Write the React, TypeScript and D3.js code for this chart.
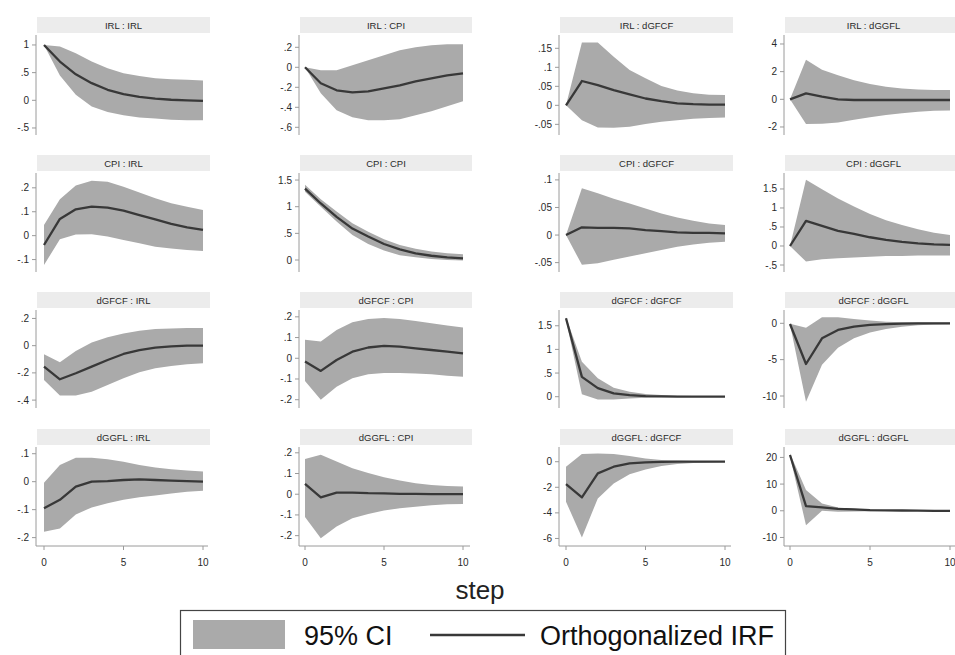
import React from 'react';
import * as d3 from 'd3';

const steps = [0, 1, 2, 3, 4, 5, 6, 7, 8, 9, 10];
const xTicks = [0, 5, 10];
const impulses = ['IRL', 'CPI', 'dGFCF', 'dGGFL'];
const responses = ['IRL', 'CPI', 'dGFCF', 'dGGFL'];

// ---- IRF data (row = impulse, column = response) ----
const irf_IRL_IRL = [1, 0.7, 0.47, 0.31, 0.19, 0.11, 0.06, 0.03, 0.01, 0.0, -0.01];
const hi_IRL_IRL = [1, 0.97, 0.85, 0.7, 0.58, 0.49, 0.44, 0.4, 0.38, 0.37, 0.36];
const lo_IRL_IRL = [1, 0.45, 0.1, -0.11, -0.21, -0.27, -0.31, -0.33, -0.35, -0.36, -0.36];

const irf_IRL_CPI = [0, -0.16, -0.23, -0.25, -0.24, -0.21, -0.18, -0.14, -0.11, -0.08, -0.06];
const hi_IRL_CPI = [0, -0.03, -0.03, 0.02, 0.07, 0.12, 0.17, 0.2, 0.22, 0.23, 0.23];
const lo_IRL_CPI = [0, -0.26, -0.43, -0.5, -0.53, -0.53, -0.52, -0.48, -0.44, -0.39, -0.34];

const irf_IRL_dGFCF = [0, 0.064, 0.053, 0.04, 0.029, 0.018, 0.011, 0.005, 0.003, 0.002, 0.002];
const hi_IRL_dGFCF = [0, 0.165, 0.165, 0.128, 0.093, 0.071, 0.051, 0.039, 0.032, 0.028, 0.027];
const lo_IRL_dGFCF = [0, -0.039, -0.058, -0.059, -0.056, -0.049, -0.043, -0.039, -0.035, -0.033, -0.032];

const irf_IRL_dGGFL = [0, 0.43, 0.19, 0.0, -0.05, -0.05, -0.05, -0.05, -0.05, -0.05, -0.05];
const hi_IRL_dGGFL = [0, 2.86, 2.14, 1.74, 1.38, 1.1, 0.9, 0.79, 0.71, 0.67, 0.67];
const lo_IRL_dGGFL = [0, -1.79, -1.76, -1.67, -1.48, -1.29, -1.14, -1.0, -0.9, -0.83, -0.81];

const irf_CPI_IRL = [-0.039, 0.07, 0.11, 0.121, 0.117, 0.105, 0.086, 0.068, 0.049, 0.035, 0.024];
const hi_CPI_IRL = [0.045, 0.152, 0.21, 0.23, 0.225, 0.205, 0.18, 0.156, 0.135, 0.121, 0.107];
const lo_CPI_IRL = [-0.123, -0.015, 0.005, 0.006, -0.004, -0.018, -0.032, -0.046, -0.054, -0.06, -0.064];

const irf_CPI_CPI = [1.34, 1.06, 0.81, 0.59, 0.44, 0.3, 0.2, 0.125, 0.08, 0.05, 0.03];
const hi_CPI_CPI = [1.41, 1.14, 0.91, 0.69, 0.53, 0.39, 0.28, 0.21, 0.16, 0.125, 0.11];
const lo_CPI_CPI = [1.28, 1.0, 0.72, 0.47, 0.3, 0.18, 0.09, 0.05, 0.02, 0.0, -0.01];

const irf_CPI_dGFCF = [0, 0.014, 0.013, 0.013, 0.012, 0.009, 0.007, 0.005, 0.004, 0.004, 0.003];
const hi_CPI_dGFCF = [0, 0.085, 0.076, 0.066, 0.057, 0.048, 0.039, 0.032, 0.026, 0.021, 0.018];
const lo_CPI_dGFCF = [0, -0.054, -0.051, -0.045, -0.039, -0.033, -0.027, -0.021, -0.017, -0.014, -0.012];

const irf_CPI_dGGFL = [0, 0.66, 0.53, 0.4, 0.32, 0.23, 0.16, 0.11, 0.07, 0.04, 0.03];
const hi_CPI_dGGFL = [0, 1.74, 1.49, 1.25, 1.04, 0.84, 0.68, 0.55, 0.44, 0.35, 0.29];
const lo_CPI_dGGFL = [0, -0.41, -0.35, -0.32, -0.3, -0.28, -0.26, -0.26, -0.25, -0.25, -0.25];

const irf_dGFCF_IRL = [-0.154, -0.247, -0.203, -0.154, -0.105, -0.061, -0.032, -0.015, -0.005, 0, 0];
const hi_dGFCF_IRL = [-0.064, -0.122, -0.039, 0.024, 0.061, 0.09, 0.11, 0.122, 0.127, 0.13, 0.13];
const lo_dGFCF_IRL = [-0.252, -0.367, -0.367, -0.338, -0.289, -0.24, -0.196, -0.166, -0.149, -0.137, -0.13];

const irf_dGFCF_CPI = [-0.016, -0.061, -0.008, 0.032, 0.052, 0.06, 0.056, 0.048, 0.04, 0.032, 0.024];
const hi_dGFCF_CPI = [0.089, 0.081, 0.137, 0.174, 0.19, 0.194, 0.19, 0.18, 0.169, 0.158, 0.148];
const lo_dGFCF_CPI = [-0.11, -0.2, -0.137, -0.097, -0.077, -0.071, -0.071, -0.074, -0.077, -0.084, -0.089];

const irf_dGFCF_dGFCF = [1.66, 0.42, 0.18, 0.07, 0.035, 0.014, 0.005, 0.002, 0.001, 0, 0];
const hi_dGFCF_dGFCF = [1.68, 0.74, 0.39, 0.19, 0.106, 0.056, 0.035, 0.02, 0.015, 0.012, 0.01];
const lo_dGFCF_dGFCF = [1.62, 0.05, -0.06, -0.06, -0.04, -0.02, -0.01, -0.005, -0.003, -0.002, -0.002];

const irf_dGFCF_dGGFL = [-0.1, -5.6, -2.06, -0.92, -0.46, -0.23, -0.1, -0.05, 0, 0, 0];
const hi_dGFCF_dGGFL = [-0.05, -0.6, 0.83, 0.83, 0.6, 0.37, 0.23, 0.14, 0.12, 0.1, 0.1];
const lo_dGFCF_dGGFL = [-0.15, -10.8, -5.7, -3.35, -2.06, -1.28, -0.78, -0.46, -0.28, -0.18, -0.14];

const irf_dGGFL_IRL = [-0.095, -0.065, -0.018, 0, 0.002, 0.006, 0.008, 0.006, 0.004, 0.002, 0];
const hi_dGGFL_IRL = [-0.004, 0.06, 0.086, 0.086, 0.08, 0.071, 0.06, 0.051, 0.044, 0.04, 0.036];
const lo_dGGFL_IRL = [-0.179, -0.167, -0.117, -0.092, -0.077, -0.065, -0.056, -0.049, -0.042, -0.036, -0.032];

const irf_dGGFL_CPI = [0.05, -0.015, 0.008, 0.008, 0.005, 0.004, 0.002, 0.002, 0, 0, 0];
const hi_dGGFL_CPI = [0.17, 0.19, 0.158, 0.126, 0.102, 0.082, 0.066, 0.053, 0.045, 0.04, 0.037];
const lo_dGGFL_CPI = [-0.11, -0.213, -0.156, -0.116, -0.095, -0.079, -0.068, -0.06, -0.053, -0.048, -0.047];

const irf_dGGFL_dGFCF = [-1.75, -2.79, -0.91, -0.39, -0.13, -0.05, -0.02, 0, 0, 0, 0];
const hi_dGGFL_dGFCF = [-0.39, 0.6, 0.65, 0.6, 0.44, 0.26, 0.13, 0.08, 0.05, 0.04, 0.03];
const lo_dGGFL_dGFCF = [-3.13, -5.92, -2.87, -1.7, -0.99, -0.6, -0.34, -0.18, -0.1, -0.06, -0.03];

const irf_dGGFL_dGGFL = [20.9, 1.75, 1.25, 0.75, 0.5, 0.25, 0.15, 0.1, 0.05, 0, 0];
const hi_dGGFL_dGGFL = [21.5, 7.75, 2.75, 1.25, 0.75, 0.5, 0.3, 0.2, 0.1, 0.1, 0.1];
const lo_dGGFL_dGGFL = [20.3, -5.4, 0, -0.4, -0.25, -0.15, -0.1, -0.05, 0, 0, 0];

// ---- y tick values per panel ----
const yt_IRL_IRL = [-0.5, 0, 0.5, 1];
const yt_IRL_CPI = [-0.6, -0.4, -0.2, 0, 0.2];
const yt_IRL_dGFCF = [-0.05, 0, 0.05, 0.1, 0.15];
const yt_IRL_dGGFL = [-2, 0, 2, 4];
const yt_CPI_IRL = [-0.1, 0, 0.1, 0.2];
const yt_CPI_CPI = [0, 0.5, 1, 1.5];
const yt_CPI_dGFCF = [-0.05, 0, 0.05, 0.1];
const yt_CPI_dGGFL = [-0.5, 0, 0.5, 1, 1.5];
const yt_dGFCF_IRL = [-0.4, -0.2, 0, 0.2];
const yt_dGFCF_CPI = [-0.2, -0.1, 0, 0.1, 0.2];
const yt_dGFCF_dGFCF = [0, 0.5, 1, 1.5];
const yt_dGFCF_dGGFL = [-10, -5, 0];
const yt_dGGFL_IRL = [-0.2, -0.1, 0, 0.1];
const yt_dGGFL_CPI = [-0.2, -0.1, 0, 0.1, 0.2];
const yt_dGGFL_dGFCF = [-6, -4, -2, 0];
const yt_dGGFL_dGGFL = [-10, 0, 10, 20];

// ---- y domains (value at bottom, value at top of plot region) ----
const yDomains = [
  [[-0.627, 1.18], [-0.677, 0.323], [-0.078, 0.185], [-2.58, 4.65]],
  [[-0.152, 0.262], [-0.225, 1.632], [-0.067, 0.1125], [-0.684, 1.92]],
  [[-0.458, 0.262], [-0.24, 0.233], [-0.239, 1.833], [-11.65, 1.83]],
  [[-0.23, 0.124], [-0.25, 0.228], [-6.59, 1.15], [-13.2, 23.9]],
];

const panelData = [
  [
    [irf_IRL_IRL, lo_IRL_IRL, hi_IRL_IRL, yt_IRL_IRL],
    [irf_IRL_CPI, lo_IRL_CPI, hi_IRL_CPI, yt_IRL_CPI],
    [irf_IRL_dGFCF, lo_IRL_dGFCF, hi_IRL_dGFCF, yt_IRL_dGFCF],
    [irf_IRL_dGGFL, lo_IRL_dGGFL, hi_IRL_dGGFL, yt_IRL_dGGFL],
  ],
  [
    [irf_CPI_IRL, lo_CPI_IRL, hi_CPI_IRL, yt_CPI_IRL],
    [irf_CPI_CPI, lo_CPI_CPI, hi_CPI_CPI, yt_CPI_CPI],
    [irf_CPI_dGFCF, lo_CPI_dGFCF, hi_CPI_dGFCF, yt_CPI_dGFCF],
    [irf_CPI_dGGFL, lo_CPI_dGGFL, hi_CPI_dGGFL, yt_CPI_dGGFL],
  ],
  [
    [irf_dGFCF_IRL, lo_dGFCF_IRL, hi_dGFCF_IRL, yt_dGFCF_IRL],
    [irf_dGFCF_CPI, lo_dGFCF_CPI, hi_dGFCF_CPI, yt_dGFCF_CPI],
    [irf_dGFCF_dGFCF, lo_dGFCF_dGFCF, hi_dGFCF_dGFCF, yt_dGFCF_dGFCF],
    [irf_dGFCF_dGGFL, lo_dGFCF_dGGFL, hi_dGFCF_dGGFL, yt_dGFCF_dGGFL],
  ],
  [
    [irf_dGGFL_IRL, lo_dGGFL_IRL, hi_dGGFL_IRL, yt_dGGFL_IRL],
    [irf_dGGFL_CPI, lo_dGGFL_CPI, hi_dGGFL_CPI, yt_dGGFL_CPI],
    [irf_dGGFL_dGFCF, lo_dGGFL_dGFCF, hi_dGGFL_dGFCF, yt_dGGFL_dGFCF],
    [irf_dGGFL_dGGFL, lo_dGGFL_dGGFL, hi_dGGFL_dGGFL, yt_dGGFL_dGGFL],
  ],
];

// ---- layout ----
const colX0 = [44, 305, 566, 790];
const colX1 = [203, 463, 725, 950];
const colAxis = [36, 299, 559, 784];
const colRight = [210, 472, 733, 962];
const rowTop = [35, 173, 310, 447];
const rowBottom = [135, 272, 408, 546];

const FONT = 'Arial, "Liberation Sans", Helvetica, sans-serif';
const BAND = '#aaaaaa';
const LINE = '#383838';
const AXIS = '#9a9a9a';
const TEXT = '#2a2a2a';

const fmt = (v: number) => {
  if (v === 0) return '0';
  let s = String(+v.toFixed(4));
  s = s.replace(/^0\./, '.').replace(/^-0\./, '-.');
  return s;
};

function Panel({ r, c }: { r: number; c: number }) {
  const [irf, lo, hi, yt] = panelData[r][c] as any;
  const x = d3.scaleLinear().domain([0, 10]).range([colX0[c], colX1[c]]);
  const y = d3.scaleLinear().domain(yDomains[r][c]).range([rowBottom[r], rowTop[r]]);
  const area = d3
    .area<number>()
    .x((_, i) => x(steps[i]))
    .y0((_, i) => y(lo[i]))
    .y1((_, i) => y(hi[i]));
  const line = d3
    .line<number>()
    .x((_, i) => x(steps[i]))
    .y((d) => y(d));
  const ax = colAxis[c];
  const top = rowTop[r];
  const bottom = rowBottom[r];
  const isBottom = r === 3;
  return (
    <g>
      <rect x={ax + 1} y={top - 18} width={colRight[c] - ax - 1} height={16} fill="#ececec" />
      <text
        x={(ax + 1 + colRight[c]) / 2}
        y={top - 6.5}
        textAnchor="middle"
        fontSize={9.5}
        fontFamily={FONT}
        fill={TEXT}
      >
        {`${impulses[r]} : ${responses[c]}`}
      </text>
      <path d={area(steps as any) as string} fill={BAND} />
      <path d={line(irf) as string} fill="none" stroke={LINE} strokeWidth={2.3} strokeLinejoin="round" />
      <line x1={ax} x2={ax} y1={top} y2={bottom} stroke={AXIS} strokeWidth={1} />
      {(yt as number[]).map((t) => (
        <g key={t}>
          <line x1={ax - 4} x2={ax} y1={y(t)} y2={y(t)} stroke={AXIS} strokeWidth={1} />
          <text
            x={ax - 7}
            y={y(t)}
            dy="0.35em"
            textAnchor="end"
            fontSize={10}
            fontFamily={FONT}
            fill={TEXT}
          >
            {fmt(t)}
          </text>
        </g>
      ))}
      {isBottom && (
        <g>
          <line x1={ax} x2={colRight[c] - 2} y1={bottom} y2={bottom} stroke={AXIS} strokeWidth={1} />
          {xTicks.map((t) => (
            <g key={t}>
              <line x1={x(t)} x2={x(t)} y1={bottom} y2={bottom + 4} stroke={AXIS} strokeWidth={1} />
              <text
                x={x(t)}
                y={bottom + 16}
                dy="0.35em"
                textAnchor="middle"
                fontSize={10}
                fontFamily={FONT}
                fill={TEXT}
              >
                {t}
              </text>
            </g>
          ))}
        </g>
      )}
    </g>
  );
}

export default function App() {
  return (
    <svg
      width={955}
      height={655}
      style={{ position: 'absolute', left: 0, top: 0, background: '#fff' }}
    >
      <rect x={0} y={0} width={955} height={655} fill="#fff" />
      {impulses.map((_, r) =>
        responses.map((_, c) => <Panel key={`${r}-${c}`} r={r} c={c} />)
      )}
      <text x={480} y={599} textAnchor="middle" fontSize={26} fontFamily={FONT} fill="#222">
        step
      </text>
      <rect x={180.5} y={610.5} width={605} height={50} fill="#fff" stroke="#444" strokeWidth={1.2} />
      <rect x={193} y={620} width={92} height={29} fill={BAND} />
      <text x={304} y={645} fontSize={27} fontFamily={FONT} fill="#111">
        95% CI
      </text>
      <line x1={430} x2={525} y1={635} y2={635} stroke={LINE} strokeWidth={2.3} />
      <text x={540} y={645} fontSize={27} fontFamily={FONT} fill="#111">
        Orthogonalized IRF
      </text>
    </svg>
  );
}
